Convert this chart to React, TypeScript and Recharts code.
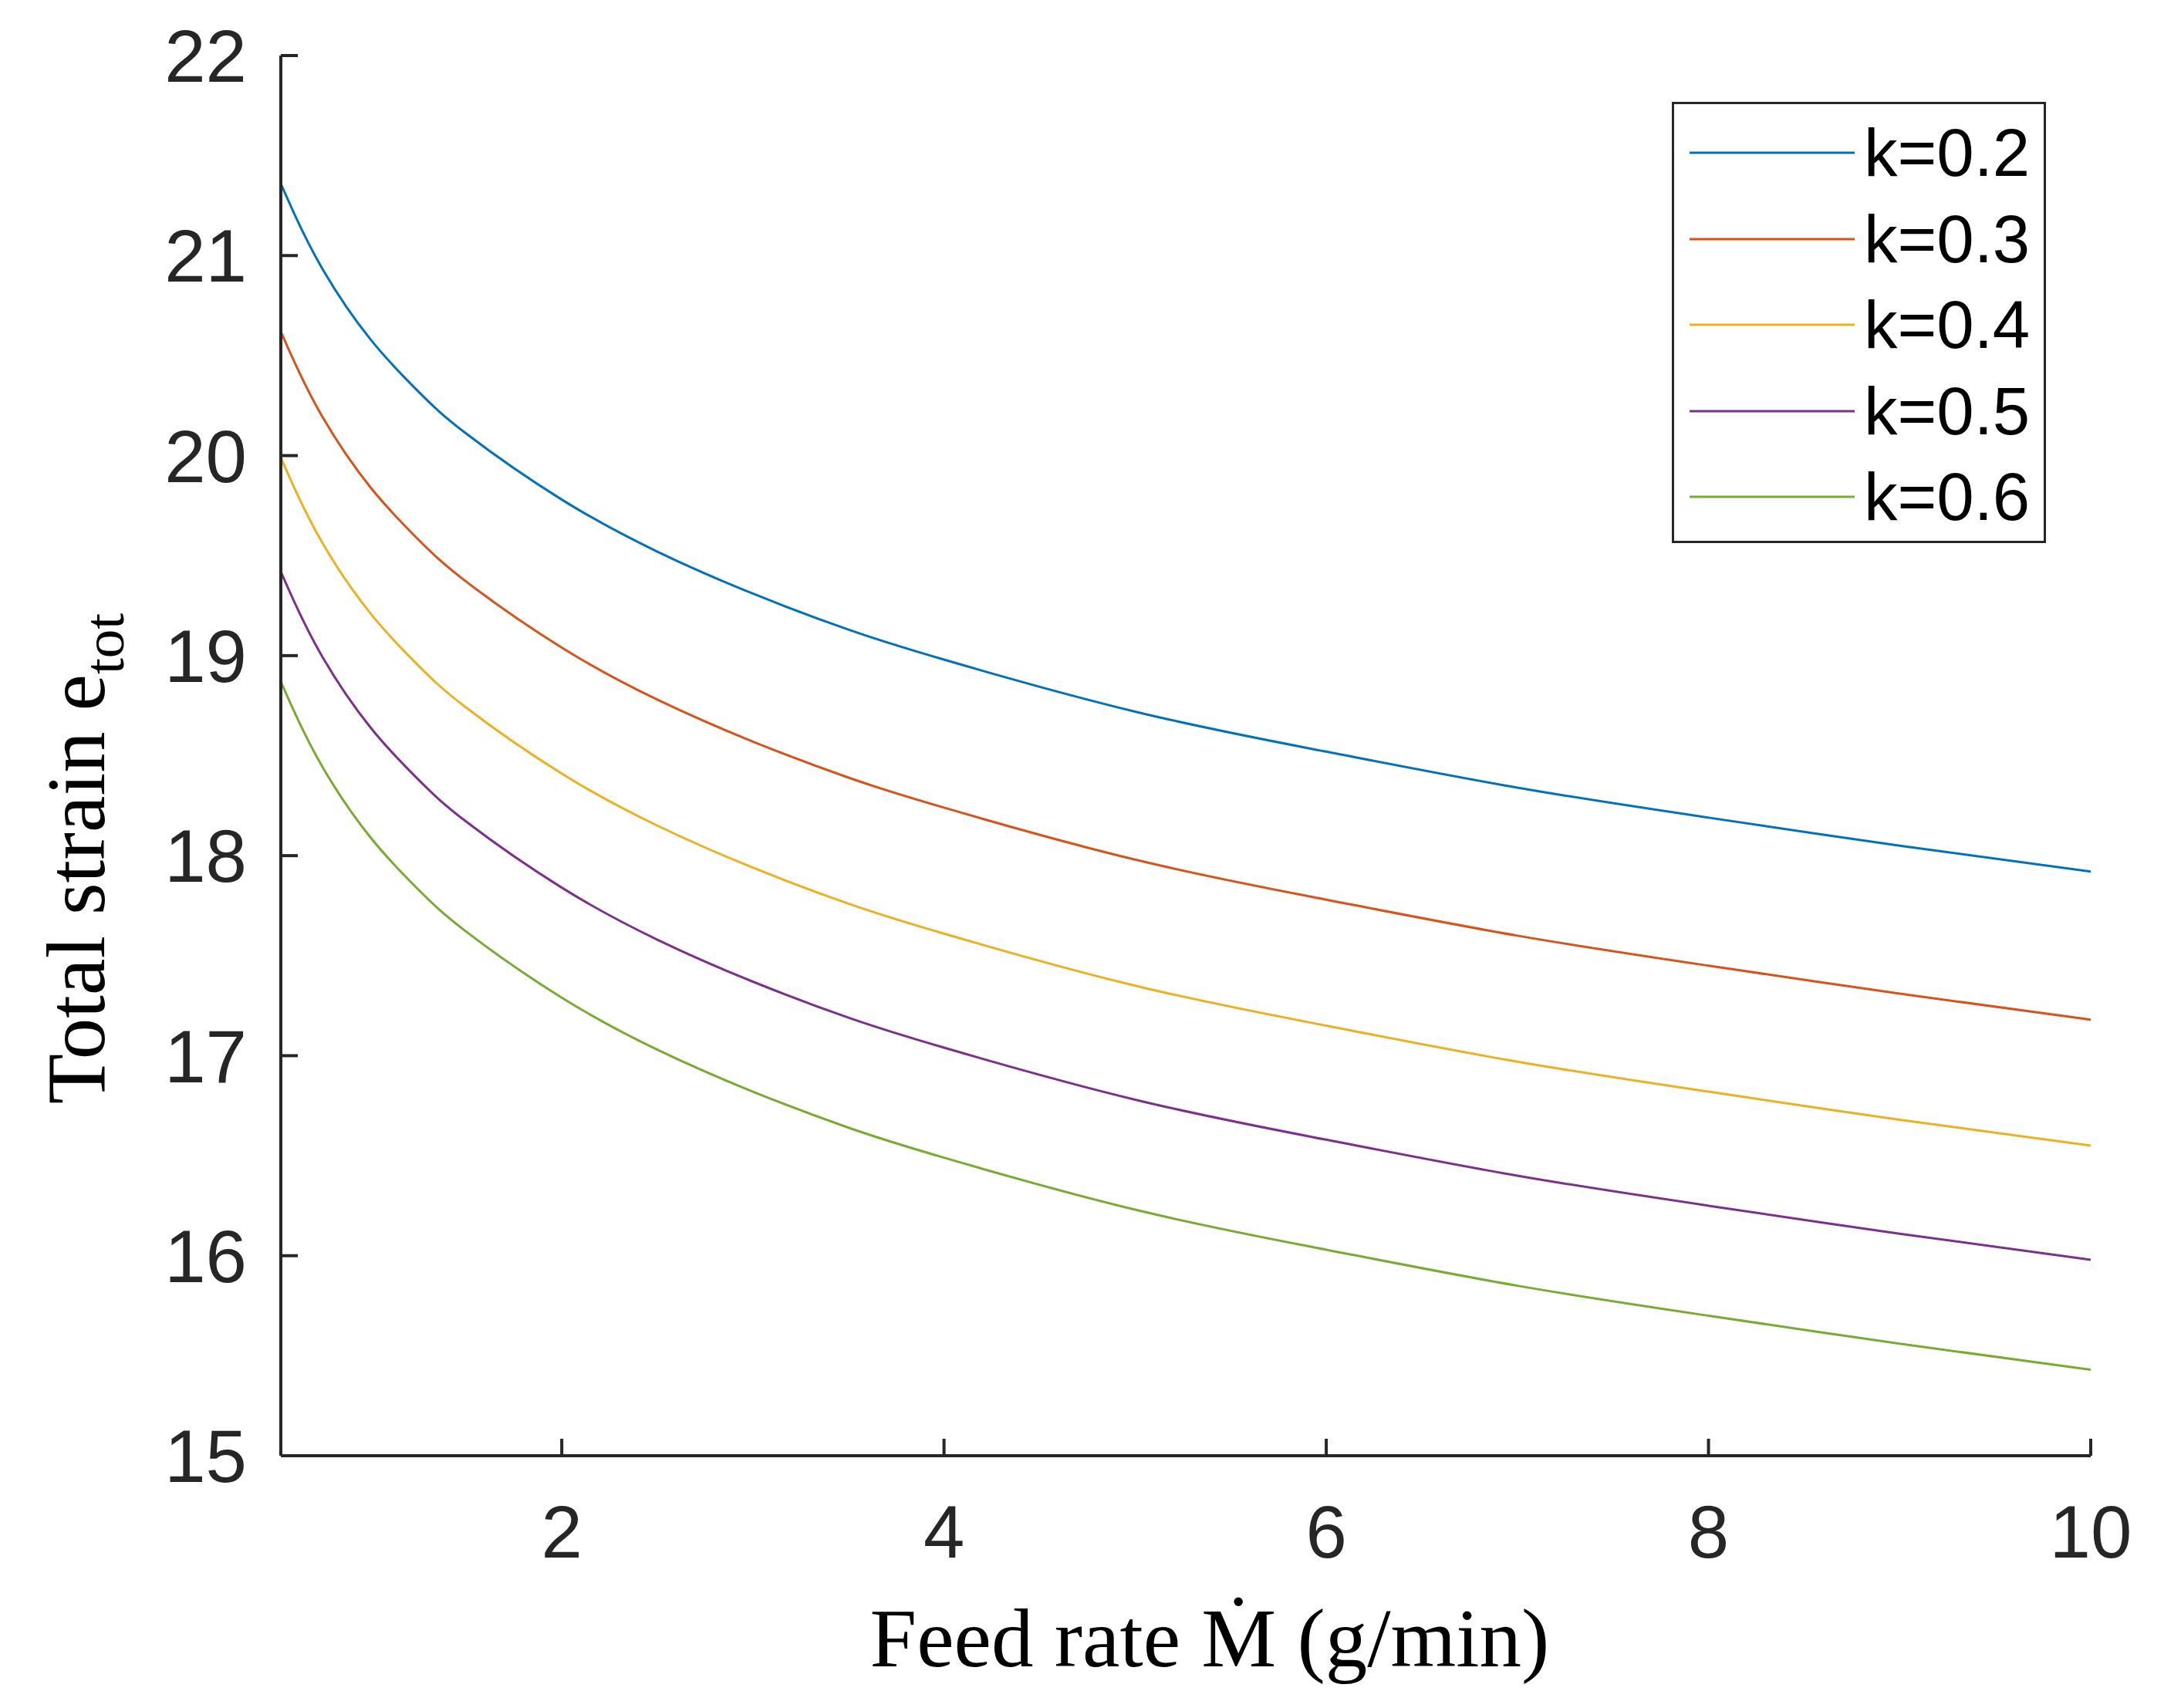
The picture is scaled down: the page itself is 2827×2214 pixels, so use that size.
import React from "react"
import { LineChart, Line, XAxis, YAxis, Legend, Label } from "recharts"

// feed rate M (g/min) sample points
const feedRate = [0.53, 0.6, 0.75, 1, 1.25, 1.5, 2, 2.5, 3, 3.5, 4, 5, 6, 7, 8, 9, 10]

// total strain e_tot for each k
const strainK02 = [21.36, 21.21, 20.93, 20.58, 20.32, 20.11, 19.78, 19.52, 19.31, 19.13, 18.98, 18.72, 18.52, 18.34, 18.19, 18.05, 17.92]
const strainK03 = [20.62, 20.47, 20.19, 19.84, 19.58, 19.37, 19.04, 18.78, 18.57, 18.39, 18.24, 17.98, 17.78, 17.6, 17.45, 17.31, 17.18]
const strainK04 = [19.99, 19.84, 19.56, 19.21, 18.95, 18.74, 18.41, 18.15, 17.94, 17.76, 17.61, 17.35, 17.15, 16.97, 16.82, 16.68, 16.55]
const strainK05 = [19.42, 19.27, 18.99, 18.64, 18.38, 18.17, 17.84, 17.58, 17.37, 17.19, 17.04, 16.78, 16.58, 16.4, 16.25, 16.11, 15.98]
const strainK06 = [18.87, 18.72, 18.44, 18.09, 17.83, 17.62, 17.29, 17.03, 16.82, 16.64, 16.49, 16.23, 16.03, 15.85, 15.7, 15.56, 15.43]

const seriesNames = ["k=0.2", "k=0.3", "k=0.4", "k=0.5", "k=0.6"]
const seriesColors = ["#0072BD", "#D95319", "#EDB120", "#7E2F8E", "#77AC30"]
const seriesValues = [strainK02, strainK03, strainK04, strainK05, strainK06]

const xTicks = [2, 4, 6, 8, 10]
const yTicks = [15, 16, 17, 18, 19, 20, 21, 22]

const xTitle = "Feed rate \u1E40 (g/min)"
const yTitle = "Total strain e"
const yTitleSub = "tot"

const AXIS = "#262626"
const SANS = "'Liberation Sans', Arial, Helvetica, sans-serif"
const SERIF = "'Liberation Serif', 'Times New Roman', serif"

const W = 2827
const H = 2214

const rows = feedRate.map((x, i) => {
  const row: Record<string, number> = { x }
  seriesValues.forEach((vals, s) => {
    row[`s${s}`] = vals[i]
  })
  return row
})

function XTitle() {
  return (
    <text x={1568} y={2160} textAnchor="middle" fontFamily={SERIF} fontSize={109} fill="#000">
      {xTitle}
    </text>
  )
}

function YTitle() {
  const cx = 135
  const cy = 1113
  return (
    <text
      x={cx}
      y={cy}
      transform={`rotate(-90, ${cx}, ${cy})`}
      textAnchor="middle"
      fontFamily={SERIF}
      fontSize={107}
      fill="#000"
    >
      {yTitle}
      <tspan dy={25} fontSize={75}>{yTitleSub}</tspan>
    </text>
  )
}

function LegendBox(props: any) {
  const payload = props.payload || []
  return (
    <div
      style={{
        width: 485,
        height: 572,
        boxSizing: "border-box",
        border: `3px solid ${AXIS}`,
        background: "#fff",
        position: "relative",
      }}
    >
      {payload.map((entry: any, i: number) => (
        <div
          key={entry.value}
          style={{
            position: "absolute",
            left: 20,
            top: 63 + i * 111.5 - 50,
            height: 100,
            display: "flex",
            alignItems: "center",
          }}
        >
          <svg width={214} height={6} style={{ display: "block" }}>
            <line x1={0} y1={3} x2={214} y2={3} stroke={entry.color} strokeWidth={3} />
          </svg>
          <span
            style={{
              marginLeft: 12,
              fontSize: 87,
              fontFamily: SANS,
              color: "#000",
              lineHeight: "100px",
              whiteSpace: "nowrap",
            }}
          >
            {entry.value}
          </span>
        </div>
      ))}
    </div>
  )
}

export default function App() {
  return (
    <div style={{ position: "absolute", left: 0, top: 0, width: W, height: H, background: "#fff" }}>
      <LineChart width={W} height={H} data={rows} margin={{ top: 72, right: 117, bottom: 0, left: 0 }}>
        <XAxis
          type="number"
          dataKey="x"
          domain={[0.53, 10]}
          ticks={xTicks}
          allowDataOverflow
          interval={0}
          height={327}
          axisLine={{ stroke: AXIS, strokeWidth: 4 }}
          tickLine={{ stroke: AXIS, strokeWidth: 4 }}
          tickSize={-22}
          tickMargin={86}
          tick={{ fill: AXIS, fontSize: 96, fontFamily: SANS }}
        >
          <Label content={<XTitle />} />
        </XAxis>
        <YAxis
          type="number"
          domain={[15, 22]}
          ticks={yTicks}
          allowDataOverflow
          interval={0}
          width={364}
          axisLine={{ stroke: AXIS, strokeWidth: 4 }}
          tickLine={{ stroke: AXIS, strokeWidth: 4 }}
          tickSize={-22}
          tickMargin={66}
          tick={{ fill: AXIS, fontSize: 96, fontFamily: SANS }}
        >
          <Label content={<YTitle />} />
        </YAxis>
        <Legend
          layout="vertical"
          align="center"
          verticalAlign="middle"
          content={<LegendBox />}
          wrapperStyle={{ left: 2167, top: 132, width: 485, height: 572 }}
        />
        {seriesNames.map((name, s) => (
          <Line
            key={name}
            type="natural"
            dataKey={`s${s}`}
            name={name}
            stroke={seriesColors[s]}
            strokeWidth={3}
            dot={false}
            activeDot={false}
            isAnimationActive={false}
          />
        ))}
      </LineChart>
    </div>
  )
}
